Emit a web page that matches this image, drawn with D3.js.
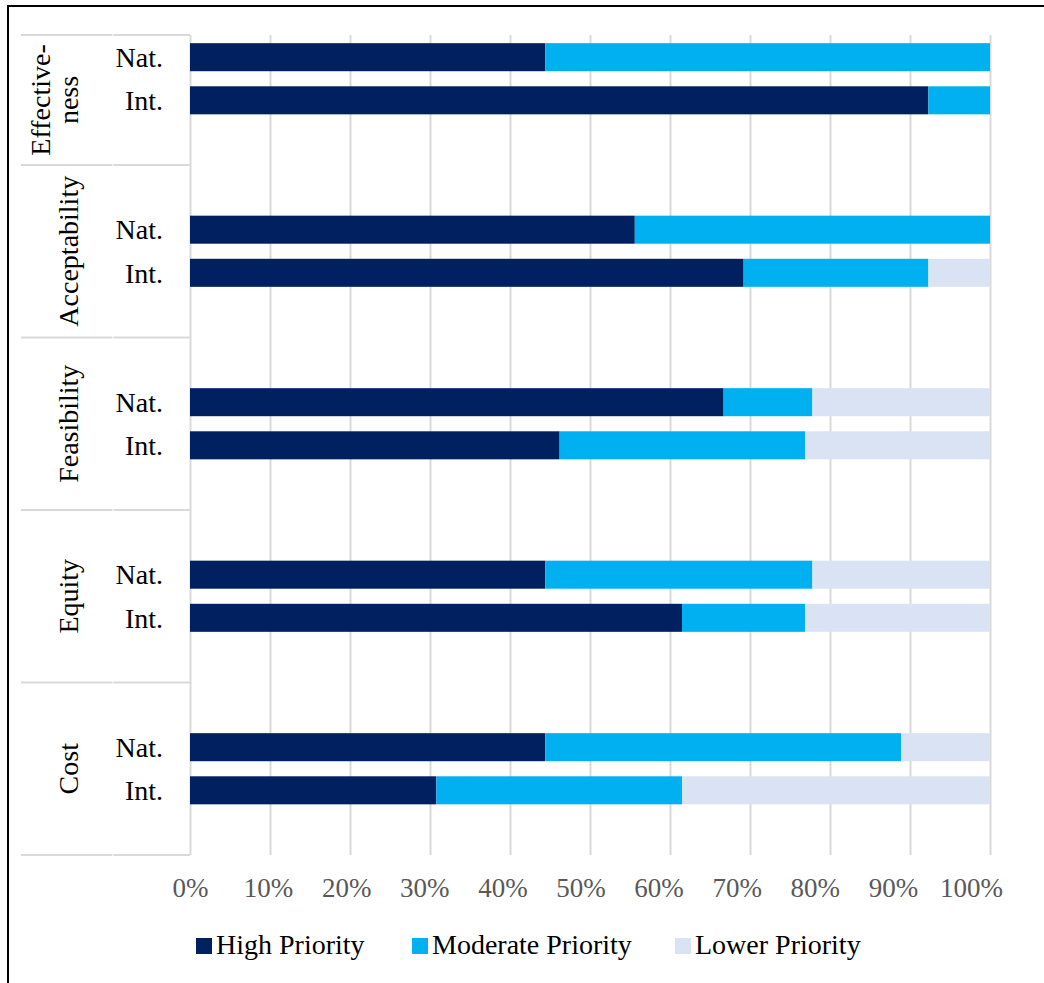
<!DOCTYPE html>
<html>
<head>
<meta charset="utf-8">
<script src="https://cdn.jsdelivr.net/npm/d3@7"></script>
<style>
  html, body { margin: 0; padding: 0; background: #fff; }
  svg { display: block; font-family: "Liberation Serif", "Times New Roman", serif; }
</style>
</head>
<body>
<svg id="chart" width="1044" height="983"></svg>
<script>
// Criteria (grouped rows), each split into national and international ratings
const groups = ["Effectiveness", "Acceptability", "Feasibility", "Equity", "Cost"];
const groupLines = [["Effective-", "ness"], ["Acceptability"], ["Feasibility"], ["Equity"], ["Cost"]];
const levels = ["Nat.", "Int."];

// Share of ratings per row, in percent (order: Effectiveness Nat., Int., Acceptability Nat., Int., ...)
const highPriority     = [44.4, 92.3, 55.6, 69.2, 66.7, 46.2, 44.4, 61.5, 44.4, 30.8];
const moderatePriority = [55.6,  7.7, 44.4, 23.1, 11.1, 30.7, 33.4, 15.4, 44.5, 30.7];
const lowerPriority    = [ 0.0,  0.0,  0.0,  7.7, 22.2, 23.1, 22.2, 23.1, 11.1, 38.5];

const seriesNames = ["High Priority", "Moderate Priority", "Lower Priority"];
const seriesColors = ["#002060", "#00B0F0", "#DAE3F3"];
const tickValues = [0, 10, 20, 30, 40, 50, 60, 70, 80, 90, 100];

const rows = [];
groups.forEach((g, gi) => {
  levels.forEach((l, li) => {
    const i = gi * levels.length + li;
    rows.push({
      group: g, level: l,
      "High Priority": highPriority[i],
      "Moderate Priority": moderatePriority[i],
      "Lower Priority": lowerPriority[i]
    });
  });
});

const svg = d3.select("#chart");

// Layout
const plotLeft = 190, plotRight = 990;
const tableTop = 35, plotBottom = 855;

const x = d3.scaleLinear().domain([0, 100]).range([plotLeft, plotRight]);
// tick labels are spread evenly but kept inside the frame on the right
const xLabel = d3.scaleLinear().domain([0, 100]).range([plotLeft, plotRight - 19]);
const yGroup = d3.scaleBand().domain(groups).range([-7.5, plotBottom]);
const yLevel = d3.scaleBand().domain(levels)
  .range([0, yGroup.bandwidth() / 2])
  .paddingInner(0.35).paddingOuter(0.175);
// center the pair of bars within each group band
const pairOffset = yGroup.bandwidth() / 2 - (yLevel.range()[1]) / 2;
const rowY = d => yGroup(d.group) + pairOffset + yLevel(d.level);

// Outer frame
svg.append("rect")
  .attr("x", 8).attr("y", 6)
  .attr("width", 1200).attr("height", 1200)
  .attr("fill", "none").attr("stroke", "#000").attr("stroke-width", 2);

// Vertical gridlines
const xGrid = d3.axisBottom(x)
  .tickValues(tickValues)
  .tickFormat("")
  .tickSizeInner(-(plotBottom - tableTop))
  .tickSizeOuter(0);

const gx = svg.append("g")
  .attr("transform", `translate(0,${plotBottom})`)
  .call(xGrid);
gx.select(".domain").remove();
gx.selectAll(".tick line").attr("stroke", "#d9d9d9").attr("stroke-width", 2);

// Percentage labels
const xAxisLabels = d3.axisBottom(xLabel)
  .tickValues(tickValues)
  .tickFormat(d => d + "%")
  .tickSize(0)
  .tickPadding(23);
const gl = svg.append("g")
  .attr("transform", `translate(0,${plotBottom})`)
  .call(xAxisLabels);
gl.select(".domain").remove();
gl.selectAll(".tick text")
  .attr("fill", "#595959")
  .style("font-size", "27px")
  .style("font-family", "'Liberation Serif', 'Times New Roman', serif");

// Category table lines at the left
const boundaries = [tableTop].concat(groups.map(g => yGroup(g) + yGroup.bandwidth()));
const tableCols = [[21, 112.5], [113.5, plotLeft]];
boundaries.forEach(yb => {
  tableCols.forEach(([a, b]) => {
    svg.append("line")
      .attr("x1", a).attr("x2", b)
      .attr("y1", yb).attr("y2", yb)
      .attr("stroke", "#d9d9d9").attr("stroke-width", 2);
  });
});

// Stacked bars
const stack = d3.stack().keys(seriesNames);
const stacked = stack(rows);
const color = d3.scaleOrdinal().domain(seriesNames).range(seriesColors);

svg.append("g")
  .selectAll("g")
  .data(stacked)
  .join("g")
  .attr("fill", s => color(s.key))
  .selectAll("rect")
  .data(s => s)
  .join("rect")
  .attr("x", d => x(d[0]))
  .attr("width", d => Math.max(0, x(Math.min(100, d[1])) - x(d[0])))
  .attr("y", d => rowY(d.data))
  .attr("height", yLevel.bandwidth());

// Row labels (Nat. / Int.)
svg.append("g")
  .selectAll("text")
  .data(rows)
  .join("text")
  .attr("x", 163)
  .attr("y", d => rowY(d) + yLevel.bandwidth() / 2)
  .attr("dy", "0.35em")
  .attr("text-anchor", "end")
  .attr("fill", "#000")
  .style("font-size", "28px")
  .text(d => d.level);

// Rotated criterion labels
groups.forEach((g, gi) => {
  const top = gi === 0 ? tableTop : yGroup(g);
  const cy = (top + yGroup(g) + yGroup.bandwidth()) / 2;
  const lines = groupLines[gi];
  const baseX = lines.length === 1 ? [78] : [50, 78];
  lines.forEach((t, li) => {
    svg.append("text")
      .attr("transform", `translate(${baseX[li]},${cy}) rotate(-90)`)
      .attr("text-anchor", "middle")
      .attr("fill", "#000")
      .style("font-size", "28px")
      .text(t);
  });
});

// Legend
const legendX = [196, 412, 675];
const legend = svg.append("g");
seriesNames.forEach((name, i) => {
  legend.append("rect")
    .attr("x", legendX[i]).attr("y", 938)
    .attr("width", 16).attr("height", 16)
    .attr("fill", seriesColors[i]);
  legend.append("text")
    .attr("x", legendX[i] + 20).attr("y", 954)
    .attr("fill", "#000")
    .style("font-size", "28px")
    .text(name);
});
</script>
</body>
</html>
